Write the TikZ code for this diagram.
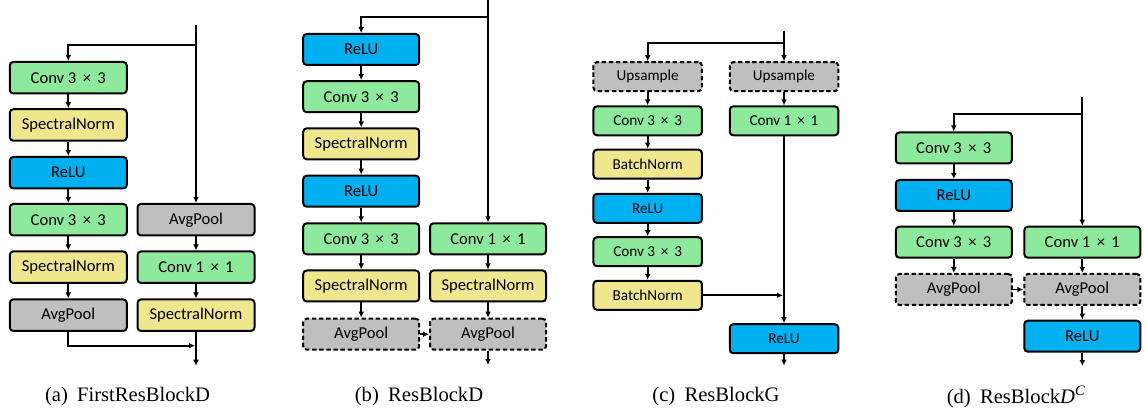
\documentclass[tikz,border=0pt]{standalone}
\usepackage{fontspec}
\setmainfont{Liberation Serif}
\newfontfamily\boxfont{Carlito}
\usetikzlibrary{arrows.meta}

\definecolor{convgreen}{HTML}{8DE99B}
\definecolor{normyellow}{HTML}{F0E68E}
\definecolor{relublue}{HTML}{00B0F0}
\definecolor{poolgray}{HTML}{BFBFBF}

% multiplication sign with a little extra room on both sides
\newcommand\bytimes{\kern0.16em×\kern0.16em}

\tikzset{
  blk/.style={draw=black, line width=2pt, rounded corners=3.5pt, inner sep=0pt,
              font=\boxfont\fontsize{16.6}{19}\selectfont},
  wa/.style={blk, minimum width=117pt, minimum height=31.5pt},
  wb/.style={blk, minimum width=116pt, minimum height=31pt},
  wc/.style={blk, minimum width=108.5pt, minimum height=29pt,
             font=\boxfont\fontsize{15.2}{17}\selectfont},
  conv/.style={fill=convgreen},
  norm/.style={fill=normyellow},
  relu/.style={fill=relublue},
  pool/.style={fill=poolgray},
  opt/.style={dash pattern=on 4.5pt off 2.6pt},
  arr/.style={line width=1.9pt, -{Latex[length=6pt,width=5.8pt]}},
  subcap/.style={font=\fontsize{20.6}{23}\selectfont, inner sep=0pt}
}

\begin{document}
\begin{tikzpicture}[x=1pt, y=-1pt]
\useasboundingbox (0,0) rectangle (1145,419);

% ---------- (a) FirstResBlockD ----------
\node[wa,conv] (a1) at (68.3,77.7)  {Conv 3 \bytimes{} 3};
\node[wa,norm] (a2) at (68.3,125)   {SpectralNorm};
\node[wa,relu] (a3) at (68.3,172.7) {ReLU};
\node[wa,conv] (a4) at (68.3,219.7) {Conv 3 \bytimes{} 3};
\node[wa,norm] (a5) at (68.3,267.2) {SpectralNorm};
\node[wa,pool] (a6) at (68.3,315.2) {AvgPool};
\node[wa,pool] (ar1) at (196,219.7) {AvgPool};
\node[wa,conv] (ar2) at (196,267.2) {Conv 1 \bytimes{} 1};
\node[wa,norm] (ar3) at (196,315.2) {SpectralNorm};
\coordinate (aTop) at (196,25);
\coordinate (aSplit) at (196,45);
\coordinate (aJoin) at (195,345.7);
\coordinate (aOut) at (196,365.7);
\draw[arr] (aTop) -- (ar1);
\draw[arr] (aSplit) -| (a1);
\foreach \u/\v in {a1/a2,a2/a3,a3/a4,a4/a5,a5/a6,ar1/ar2,ar2/ar3}
  \draw[arr] (\u) -- (\v);
\draw[arr] (a6) |- (aJoin);
\draw[arr] (ar3) -- (aOut);
\node[subcap] (capa) at (127.5,397) {(a)\hspace{0.45em}FirstResBlockD};

% ---------- (b) ResBlockD ----------
\node[wb,relu] (b1) at (361.2,49.5)  {ReLU};
\node[wb,conv] (b2) at (361.2,96.7)  {Conv 3 \bytimes{} 3};
\node[wb,norm] (b3) at (361.2,143.8) {SpectralNorm};
\node[wb,relu] (b4) at (361.2,191.2) {ReLU};
\node[wb,conv] (b5) at (361.2,238.8) {Conv 3 \bytimes{} 3};
\node[wb,norm] (b6) at (361.2,286)   {SpectralNorm};
\node[wb,pool,opt] (b7) at (361.2,334.2) {AvgPool};
\node[wb,conv] (br1) at (488,238.8) {Conv 1 \bytimes{} 1};
\node[wb,norm] (br2) at (488,286)   {SpectralNorm};
\node[wb,pool,opt] (br3) at (488,334.2) {AvgPool};
\coordinate (bTop) at (488,0);
\coordinate (bSplit) at (488,17.3);
\coordinate (bOut) at (488,365);
\draw[arr] (bTop) -- (br1);
\draw[arr] (bSplit) -| (b1);
\foreach \u/\v in {b1/b2,b2/b3,b3/b4,b4/b5,b5/b6,b6/b7,br1/br2,br2/br3}
  \draw[arr] (\u) -- (\v);
\draw[arr] (b7) -- (br3);
\draw[arr] (br3) -- (bOut);
\node[subcap] (capb) at (419,397) {(b)\hspace{0.45em}ResBlockD};

% ---------- (c) ResBlockG ----------
\node[wc,pool,opt] (c1) at (647.7,76.7) {Upsample};
\node[wc,conv] (c2) at (647.7,120.8) {Conv 3 \bytimes{} 3};
\node[wc,norm] (c3) at (647.7,164.2) {BatchNorm};
\node[wc,relu] (c4) at (647.7,208.3) {ReLU};
\node[wc,conv] (c5) at (647.7,251.7) {Conv 3 \bytimes{} 3};
\node[wc,norm] (c6) at (647.7,295.3) {BatchNorm};
\node[wc,pool,opt] (cr1) at (784,76.7) {Upsample};
\node[wc,conv] (cr2) at (784,120.8) {Conv 1 \bytimes{} 1};
\node[wc,relu] (cr3) at (784,338.7) {ReLU};
\coordinate (cTop) at (784,30.7);
\coordinate (cSplit) at (784,42.7);
\coordinate (cJoin) at (783,295.3);
\coordinate (cOut) at (784,365.7);
\draw[arr] (cTop) -- (cr1);
\draw[arr] (cSplit) -| (c1);
\foreach \u/\v in {c1/c2,c2/c3,c3/c4,c4/c5,c5/c6,cr1/cr2,cr2/cr3}
  \draw[arr] (\u) -- (\v);
\draw[arr] (c6) -- (cJoin);
\draw[arr] (cr3) -- (cOut);
\node[subcap] (capc) at (716,397) {(c)\hspace{0.45em}ResBlockG};

% ---------- (d) ResBlockD^C ----------
\node[wb,conv] (d1) at (953.8,148)   {Conv 3 \bytimes{} 3};
\node[wb,relu] (d2) at (953.8,195.5) {ReLU};
\node[wb,conv] (d3) at (953.8,242.2) {Conv 3 \bytimes{} 3};
\node[wb,pool,opt] (d4) at (953.8,289.5) {AvgPool};
\node[wb,conv] (dr1) at (1082.3,242.2) {Conv 1 \bytimes{} 1};
\node[wb,pool,opt] (dr2) at (1082.3,289.5) {AvgPool};
\node[wb,relu] (dr3) at (1082.3,336.2) {ReLU};
\coordinate (dTop) at (1082.3,96.7);
\coordinate (dSplit) at (1082.3,114);
\coordinate (dOut) at (1082.3,366);
\draw[arr] (dTop) -- (dr1);
\draw[arr] (dSplit) -| (d1);
\foreach \u/\v in {d1/d2,d2/d3,d3/d4,dr1/dr2,dr2/dr3}
  \draw[arr] (\u) -- (\v);
\draw[arr] (d4) -- (dr2);
\draw[arr] (dr3) -- (dOut);
\node[subcap] (capd) at (1016,397) {(d)\hspace{0.45em}ResBlock{\itshape D}\textsuperscript{\itshape C}};
\end{tikzpicture}
\end{document}
